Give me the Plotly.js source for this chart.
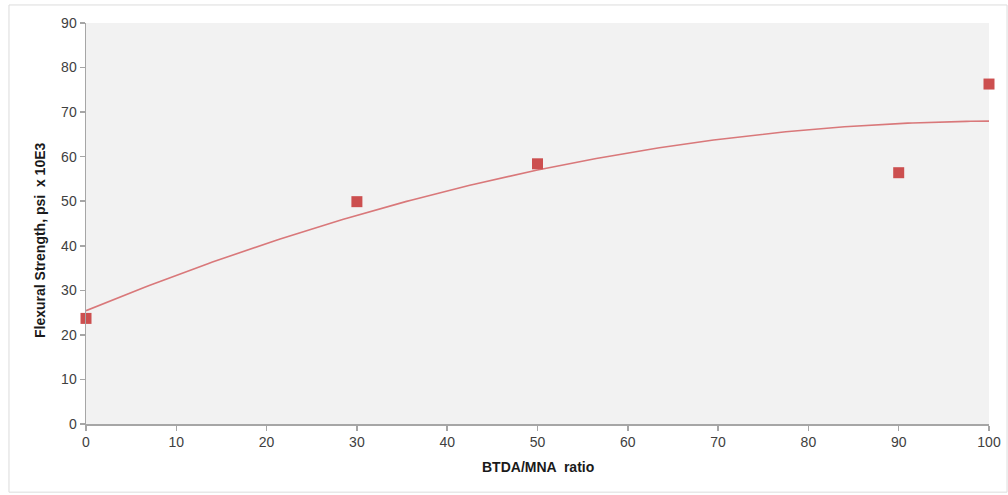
<!DOCTYPE html>
<html>
<head>
<meta charset="utf-8">
<script src="https://cdn.plot.ly/plotly-3.0.1.min.js"></script>
<style>html,body{margin:0;padding:0;background:#fff;}#chart{width:1008px;height:495px;}</style>
</head>
<body>
<div id="chart"></div>
<script>
// Data
const ratio = [0, 30, 50, 90, 100];
const strength = [23.7, 49.9, 58.4, 56.4, 76.3];
const xTicks = [0, 10, 20, 30, 40, 50, 60, 70, 80, 90, 100];
const yTicks = [0, 10, 20, 30, 40, 50, 60, 70, 80, 90];
const xTitle = 'BTDA/MNA  ratio';
const yTitle = 'Flexural Strength, psi  x 10E3';

// Second-order polynomial trendline (least squares) from the data
function polyFit2(xs, ys) {
  let S = [0,0,0,0,0], T = [0,0,0];
  for (let i = 0; i < xs.length; i++) {
    let p = 1;
    for (let k = 0; k < 5; k++) { S[k] += p; if (k < 3) T[k] += p * ys[i]; p *= xs[i]; }
  }
  const M = [[S[0],S[1],S[2],T[0]],[S[1],S[2],S[3],T[1]],[S[2],S[3],S[4],T[2]]];
  for (let c = 0; c < 3; c++) {
    for (let r = c + 1; r < 3; r++) {
      const f = M[r][c] / M[c][c];
      for (let k = c; k < 4; k++) M[r][k] -= f * M[c][k];
    }
  }
  const co = [0,0,0];
  for (let r = 2; r >= 0; r--) {
    let s = M[r][3];
    for (let k = r + 1; k < 3; k++) s -= M[r][k] * co[k];
    co[r] = s / M[r][r];
  }
  return co;
}
const co = polyFit2(ratio, strength);
const xMin = Math.min(...ratio), xMax = Math.max(...ratio);
const fitX = [], fitY = [];
for (let i = 0; i <= 200; i++) {
  const x = xMin + (xMax - xMin) * i / 200;
  fitX.push(x);
  fitY.push(co[0] + co[1] * x + co[2] * x * x);
}

const traces = [
  {x: fitX, y: fitY, mode: 'lines', line: {color: '#d9787a', width: 1.6}, hoverinfo: 'skip', showlegend: false, cliponaxis: false},
  {x: ratio, y: strength, mode: 'markers', marker: {symbol: 'square', size: 11, color: '#cc4f4f'}, showlegend: false, cliponaxis: false}
];

const fam = 'Liberation Sans, Arial, sans-serif';
const axFont = {family: fam, size: 14, color: '#404040'};
const titleFont = {family: fam, size: 14, color: '#1a1a1a'};
const layout = {
  width: 1008, height: 495,
  margin: {l: 86, r: 19, t: 23, b: 71},
  paper_bgcolor: '#ffffff',
  plot_bgcolor: '#f2f2f2',
  showlegend: false,
  xaxis: {
    range: [0, 100], tickvals: xTicks, ticktext: xTicks.map(String),
    showgrid: false, zeroline: false, showline: true, linecolor: '#a6a6a6', linewidth: 1.5,
    ticks: 'outside', ticklen: 5, tickcolor: '#a6a6a6', tickwidth: 1.5,
    tickfont: axFont, fixedrange: true
  },
  yaxis: {
    range: [0, 90], tickvals: yTicks, ticktext: yTicks.map(String),
    showgrid: false, zeroline: false, showline: true, linecolor: '#a6a6a6', linewidth: 1.5,
    ticks: 'outside', ticklen: 5, tickcolor: '#a6a6a6', tickwidth: 1.5,
    tickfont: axFont, fixedrange: true
  },
  annotations: [
    {text: '<b>' + xTitle + '</b>', xref: 'paper', yref: 'paper', x: 0.5, y: -0.108, xanchor: 'center', yanchor: 'middle',
     showarrow: false, font: titleFont},
    {text: '<b>' + yTitle + '</b>', xref: 'paper', yref: 'paper', x: -0.0509, y: 0.459, xanchor: 'center', yanchor: 'middle',
     textangle: -90, showarrow: false, font: titleFont}
  ],
  shapes: [
    {type: 'rect', xref: 'paper', yref: 'paper', x0: -0.0853, x1: 1.02, y0: -0.17, y1: 1.045,
     line: {color: '#dcdcdc', width: 1}, fillcolor: 'rgba(0,0,0,0)', layer: 'below'}
  ]
};

Plotly.newPlot('chart', traces, layout, {displayModeBar: false, staticPlot: true});
</script>
</body>
</html>
